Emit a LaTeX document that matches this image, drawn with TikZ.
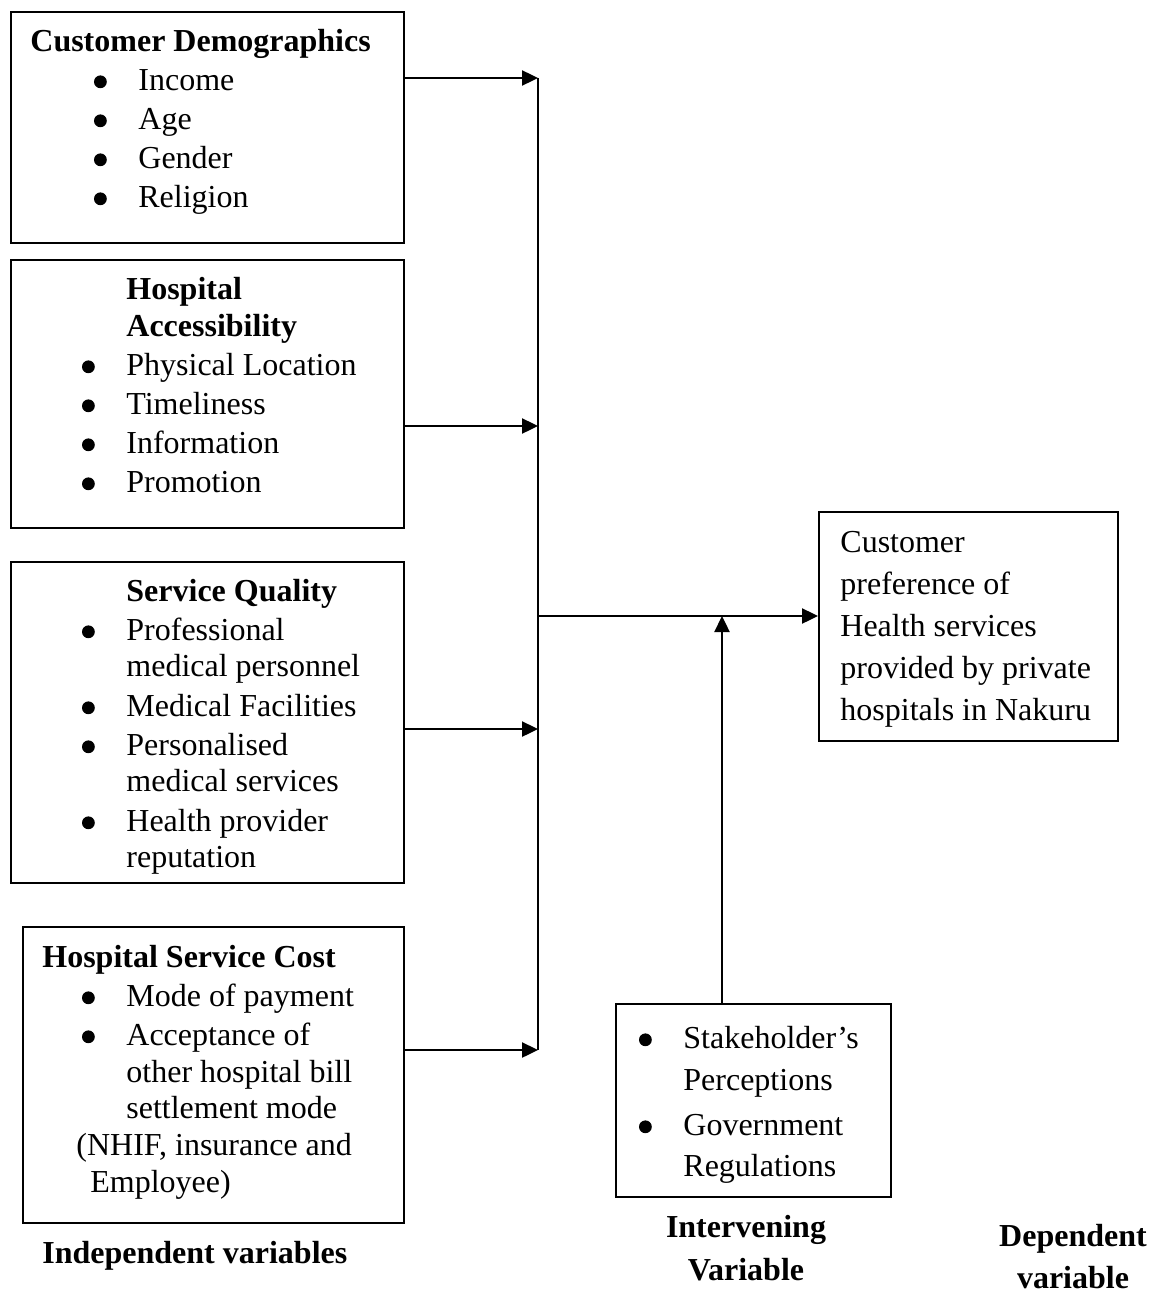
\documentclass[tikz,border=0pt]{standalone}
\usepackage{fontspec}
\setmainfont{Liberation Serif}
\usetikzlibrary{arrows.meta,positioning}

\tikzset{
  frame/.style={draw, line width=0.8pt, inner sep=0pt, anchor=north west},
  txt/.style={inner sep=0pt, anchor=north west, align=left, font=\fontsize{16}{18}\selectfont},
  lbl/.style={inner sep=0pt, align=center, font=\fontsize{16}{18}\selectfont\bfseries},
  arr/.style={line width=1.2pt, -{Triangle[length=8pt,width=7.5pt]}},
}
\newcommand{\bul}{\makebox[0pt]{\tikz[baseline=0pt]\fill (0,4.4pt) circle (3.2pt);}}
\newcommand{\itm}{\bul\hspace*{19pt}}
\newcommand{\ind}{\hspace*{19pt}}

\begin{document}
\begin{tikzpicture}[x=0.5pt,y=-0.5pt]
\useasboundingbox (0,0) rectangle (1160,1295);

%BOXES
%Independent variables
\node (cdem)  [frame, minimum width=196.5pt, minimum height=115.5pt] at (10,11) {};
\node (hacc)  [frame, minimum width=196.5pt, minimum height=134pt] at (10,259) {};
\node (squal) [frame, minimum width=196.5pt, minimum height=160.5pt] at (10,561) {};
\node (hcost) [frame, minimum width=190.5pt, minimum height=148pt] at (22,926) {};
%Dependent and intervening
\node (dvar)  [frame, minimum width=149.5pt, minimum height=114.5pt] at (818,511) {};
\node (ivar)  [frame, minimum width=137.5pt, minimum height=96.5pt] at (615,1003) {};

%Box texts
\node (cdemtxt) [txt] at (30,26) {\strut\textbf{Customer Demographics}\\[1.5pt]
\hspace*{35pt}\itm Income\\[1.5pt]
\hspace*{35pt}\itm Age\\[1.5pt]
\hspace*{35pt}\itm Gender\\[1.5pt]
\hspace*{35pt}\itm Religion};

\node (hacctxt) [txt] at (88,274) {\strut\ind\textbf{Hospital}\\[0.5pt]
\ind\textbf{Accessibility}\\[1.5pt]
\itm Physical Location\\[1.5pt]
\itm Timeliness\\[1.5pt]
\itm Information\\[1.5pt]
\itm Promotion};

\node (squaltxt) [txt] at (88,576) {\strut\ind\textbf{Service Quality}\\[1.5pt]
\itm Professional\\
\ind medical personnel\\[2pt]
\itm Medical Facilities\\[1.5pt]
\itm Personalised\\
\ind medical services\\[2pt]
\itm Health provider\\
\ind reputation};

\node (hcosttxt) [txt] at (42,942) {\strut\textbf{Hospital Service Cost}\\[1.5pt]
\hspace*{23pt}\itm Mode of payment\\[1.5pt]
\hspace*{23pt}\itm Acceptance of\\[0.5pt]
\hspace*{42pt}other hospital bill\\
\hspace*{42pt}settlement mode\\[0.5pt]
\hspace*{17pt}(NHIF, insurance and\\[0.5pt]
\hspace*{24pt}Employee)};

\node (dvartxt) [txt] at (840,527) {\strut Customer\\[3pt]
preference of\\[3pt]
Health services\\[3pt]
provided by private\\[3pt]
hospitals in Nakuru};

\node (ivartxt) [txt] at (645,1023) {\strut\itm Stakeholder’s\\[3pt]
\ind Perceptions\\[4.5pt]
\itm Government\\[2.5pt]
\ind Regulations};

%Labels
\node (indep)  [lbl, anchor=base west] at (42,1263) {Independent variables};
\node (interv) [lbl, anchor=north] at (746,1212) {\strut Intervening\\[3.5pt]Variable};
\node (depend) [lbl, anchor=north] at (1073,1221) {\strut Dependent\\[3pt]variable};

%Arrows
\coordinate (j1) at (538,78);
\coordinate (j2) at (538,426);
\coordinate (j3) at (538,729);
\coordinate (j4) at (538,1050);
\coordinate (jm) at (538,616);
\coordinate (ja) at (722,616);

\draw [arr] (cdem.east |- j1) -- (j1);
\draw [arr] (hacc.east |- j2) -- (j2);
\draw [arr] (squal.east |- j3) -- (j3);
\draw [arr] (hcost.east |- j4) -- (j4);
\draw [line width=1.2pt] (j1) -- (j4);
\draw [arr] (jm) -- (dvar.west |- jm);
\draw [arr] (ivar.north -| ja) -- (ja);

\end{tikzpicture}
\end{document}
